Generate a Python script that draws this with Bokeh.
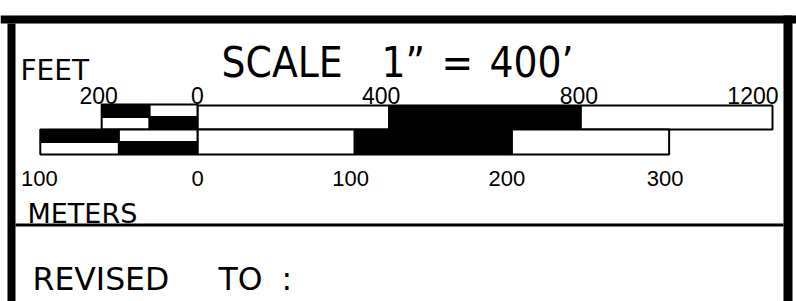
from bokeh.plotting import figure
from bokeh.models import Range1d, ColumnDataSource
from bokeh.core.properties import value
from bokeh.embed import file_html
from bokeh.resources import INLINE

# ---------------- data ----------------
FT_PER_M = 3.28084
feet_main_edges = [0, 400, 800, 1200]
feet_main_fill = ["white", "black", "white"]
feet_sub_edges = [-200, -100, 0]
feet_sub_upper_fill = ["black", "white"]
feet_sub_lower_fill = ["white", "black"]

meters_main_edges = [0, 100, 200, 300]
meters_main_fill = ["white", "black", "white"]
meters_sub_edges = [-100, -50, 0]
meters_sub_upper_fill = ["black", "white"]
meters_sub_lower_fill = ["white", "black"]

feet_ticks = [-200, 0, 400, 800, 1200]
feet_tick_labels = ["200", "0", "400", "800", "1200"]
meter_ticks = [-100, 0, 100, 200, 300]
meter_tick_labels = ["100", "0", "100", "200", "300"]

title_parts = ["SCALE", "1\u201d", "=", "400\u2019"]

# ---------------- layout / style ----------------
W, H = 796, 301
PX_PER_FT = 0.47917
X0 = 197  # pixel of 0 ft
feet_label_dx = [-3, 0, -8, -2, 0]
meter_label_dx = [-1, 0, -4, -5, -4]
title_x = [221, 381, 441, 489]

FEET_TOP, FEET_MID, FEET_BOT = 104, 116.5, 129
MET_TOP, MET_MID, MET_BOT = 129, 141.5, 154

p = figure(width=W, height=H, output_backend="svg", toolbar_location=None,
           x_range=Range1d(-X0 / PX_PER_FT, (W - X0) / PX_PER_FT),
           y_range=Range1d(H, 0), min_border=0)
p.extra_x_ranges = {"px": Range1d(0, W)}
p.axis.visible = False
p.grid.visible = False
p.outline_line_color = None
p.background_fill_color = "white"
p.border_fill_color = "white"


def segs(edges, fills, scale, top, bottom, lw=2):
    src = ColumnDataSource(dict(
        left=[e * scale for e in edges[:-1]],
        right=[e * scale for e in edges[1:]],
        fill=fills))
    p.quad(left="left", right="right", top=top, bottom=bottom, source=src,
           fill_color="fill", line_color="black", line_width=lw)


# feet bar
segs(feet_main_edges, feet_main_fill, 1, FEET_TOP + 1, FEET_BOT)
segs(feet_sub_edges, feet_sub_upper_fill, 1, FEET_TOP, FEET_MID)
segs(feet_sub_edges, feet_sub_lower_fill, 1, FEET_MID, FEET_BOT)
# meters bar
segs(meters_main_edges, meters_main_fill, FT_PER_M, MET_TOP, MET_BOT)
segs(meters_sub_edges, meters_sub_upper_fill, FT_PER_M, MET_TOP, MET_MID)
segs(meters_sub_edges, meters_sub_lower_fill, FT_PER_M, MET_MID, MET_BOT)

num_font = value("Liberation Sans")
txt_font = value("DejaVu Sans")

# feet labels
fl = ColumnDataSource(dict(x=feet_ticks[:-1], t=feet_tick_labels[:-1], dx=feet_label_dx[:-1]))
p.text(x="x", y=95, text="t", x_offset="dx", source=fl, text_align="center",
       text_baseline="alphabetic", text_font=num_font, text_font_size="23px", text_color="black")
p.text(x=[feet_ticks[-1]], y=[95], text=[feet_tick_labels[-1]], x_offset=6,
       text_align="right", text_baseline="alphabetic", text_font=num_font,
       text_font_size="23px", text_color="black")
# meter labels
ml = ColumnDataSource(dict(x=[m * FT_PER_M for m in meter_ticks], t=meter_tick_labels, dx=meter_label_dx))
p.text(x="x", y=178, text="t", x_offset="dx", source=ml, text_align="center",
       text_baseline="alphabetic", text_font=num_font, text_font_size="22px", text_color="black")

# frame (pixel range)
frame = dict(left=[0, 7, 783, 15], right=[796, 15, 792, 783],
             top=[15, 23, 15, 223], bottom=[23, 301, 301, 226])
p.quad(x_range_name="px", source=ColumnDataSource(frame), left="left", right="right",
       top="top", bottom="bottom", fill_color="black", line_color=None)

# words
def word(x, y, t, size, font=txt_font):
    p.text(x=[x], y=[y], text=[t], x_range_name="px", text_align="left",
           text_baseline="alphabetic", text_font=font, text_font_size=size, text_color="black")

word(20, 69.5, "FEET", "28px")
word(27, 213, "METERS", "27px")
word(32, 278, "REVISED", "31.5px")
word(218, 278, "TO", "31.5px")
word(281, 278, ":", "31.5px")
for x, t in zip(title_x, title_parts):
    word(x, 62, t, "42px", value("DejaVu Sans Condensed"))

open("out.html", "w").write(file_html(p, INLINE))
